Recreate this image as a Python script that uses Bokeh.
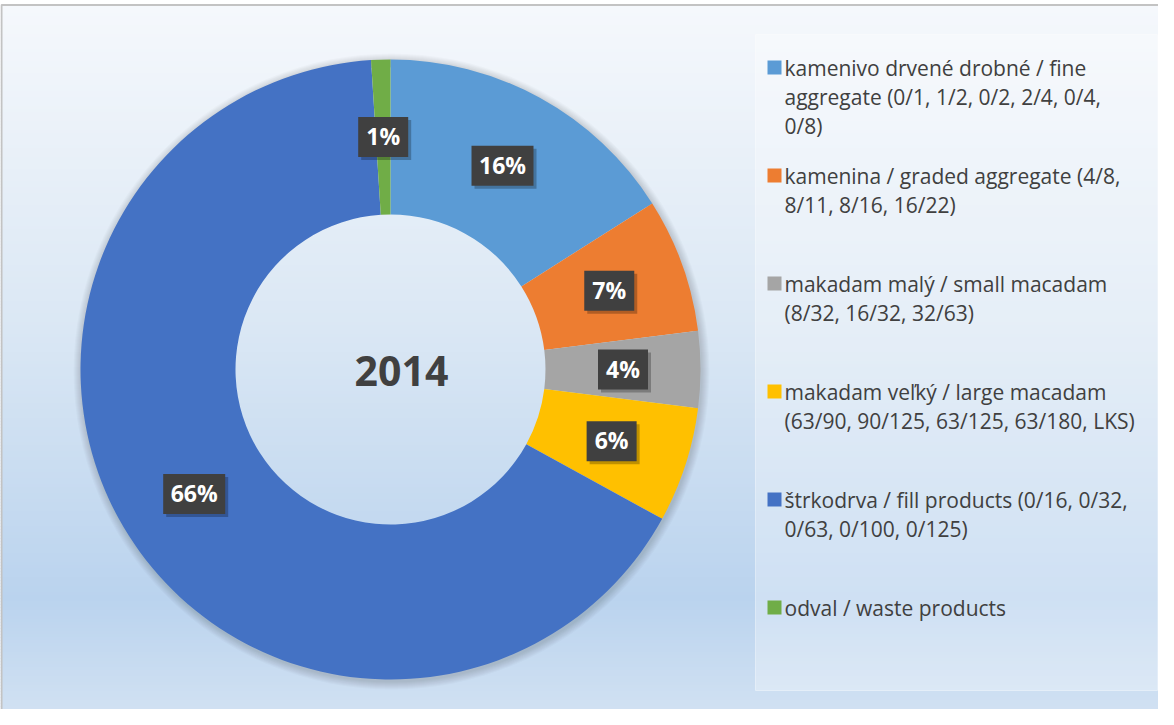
import numpy as np
from bokeh.plotting import figure
from bokeh.models import Range1d, ColumnDataSource
from bokeh.core.properties import value
from bokeh.embed import file_html
from bokeh.resources import INLINE

# ---------------- data ----------------
categories = [
    "kamenivo drvené drobné / fine aggregate (0/1, 1/2, 0/2, 2/4, 0/4, 0/8)",
    "kamenina / graded aggregate (4/8, 8/11, 8/16, 16/22)",
    "makadam malý / small macadam (8/32, 16/32, 32/63)",
    "makadam veľký / large macadam (63/90, 90/125, 63/125, 63/180, LKS)",
    "štrkodrva / fill products (0/16, 0/32, 0/63, 0/100, 0/125)",
    "odval / waste products",
]
legend_lines = [
    ["kamenivo drvené drobné / fine", "aggregate (0/1, 1/2, 0/2, 2/4, 0/4,", "0/8)"],
    ["kamenina / graded aggregate (4/8,", "8/11, 8/16, 16/22)"],
    ["makadam malý / small macadam", "(8/32, 16/32, 32/63)"],
    ["makadam veľký / large macadam", "(63/90, 90/125, 63/125, 63/180, LKS)"],
    ["štrkodrva / fill products (0/16, 0/32,", "0/63, 0/100, 0/125)"],
    ["odval / waste products"],
]
values = [16, 7, 4, 6, 66, 1]
colors = ["#5B9BD5", "#ED7D31", "#A5A5A5", "#FFC000", "#4472C4", "#70AD47"]
center_label = "2014"

FONT = "Open Sans"

# ---------------- layout (page pixels) ----------------
W, H = 1158, 709
PAGE_H = 725
def Y(py):  # page pixel y -> data y
    return PAGE_H - py

p = figure(width=W, height=H, x_range=Range1d(8, 8 + W), y_range=Range1d(Y(8 + H), Y(8)),
           output_backend="svg", toolbar_location=None, min_border=0)
p.axis.visible = False
p.grid.visible = False
p.outline_line_color = None
p.background_fill_color = "white"
p.border_fill_color = "white"

# background gradient of the chart frame
stops_t = [0.0, 0.45, 0.82, 1.0]
stops_c = [(0xF5, 0xF8, 0xFC), (0xDA, 0xE7, 0xF4), (0xBA, 0xD3, 0xEE), (0xD4, 0xE3, 0xF3)]
top_px, bot_px = 12, 717
edges = np.arange(top_px, bot_px + 3, 3)
band_cols = []
for e in edges[:-1]:
    t = (e - top_px) / (735 - top_px)
    rgb = [int(round(np.interp(t, stops_t, [c[k] for c in stops_c]))) for k in range(3)]
    band_cols.append("#%02x%02x%02x" % tuple(rgb))
p.quad(left=8, right=8 + W, top=[Y(e) + 0.5 for e in edges[:-1]],
       bottom=[Y(e) - 3.5 for e in edges[:-1]], fill_color=band_cols, line_color=None)
# frame border
p.line(x=[9, 9, 8 + W], y=[Y(bot_px), Y(12.5), Y(12.5)], line_color="#C3C3C3", line_width=2)

# legend box
p.quad(left=763, right=1165, top=Y(42), bottom=Y(698), fill_color="white", fill_alpha=0.3,
       line_color="white", line_alpha=0.4)

# donut
cx, cy = 398, Y(377)
r_out, r_in = 310, 155
vals = np.array(values, dtype=float)
frac = vals / vals.sum()
cum_after = np.cumsum(frac)
cum_before = cum_after - frac
start = np.pi / 2 - 2 * np.pi * cum_before
end = np.pi / 2 - 2 * np.pi * cum_after
mid = np.pi / 2 - 2 * np.pi * (cum_before + frac / 2)

# soft shadow around the ring
for k in range(1, 9):
    p.annulus(x=cx + 1, y=cy - 2, inner_radius=r_out - 6, outer_radius=r_out + k,
              fill_color="black", fill_alpha=0.018, line_color=None)

src = ColumnDataSource(dict(start=start, end=end, color=colors, cat=categories))
p.annular_wedge(x=cx, y=cy, inner_radius=r_in, outer_radius=r_out, start_angle="start",
                end_angle="end", direction="clock", fill_color="color", line_color=None, source=src)

# data labels
r_lab = (r_in + r_out) / 2
lab_text = ["%d%%" % round(f * 100) for f in frac]
lx = cx + r_lab * np.cos(mid)
ly = cy + r_lab * np.sin(mid)
bw = [26 + 12 * len(t) for t in lab_text]
p.rect(x=lx + 3, y=ly - 3, width=bw, height=40, width_units="screen", height_units="screen",
       fill_color="black", fill_alpha=0.25, line_color=None)
p.rect(x=lx, y=ly, width=bw, height=40, width_units="screen", height_units="screen",
       fill_color="#404040", line_color=None)
p.text(x=lx, y=ly + 1, text=lab_text, text_color="white", text_font=value(FONT),
       text_font_style="bold", text_font_size="23px", text_align="center", text_baseline="middle")

# center label
p.text(x=[409], y=[Y(378)], text=[center_label], text_color="#404040", text_font=value(FONT),
       text_font_style="bold", text_font_size="41px", text_align="center", text_baseline="middle")

# legend
mx, my, tx, ty = [], [], [], []
txt = []
for i, lines in enumerate(legend_lines):
    y0 = 75 + 108 * i
    mx.append(782)
    my.append(Y(y0))
    for j, line in enumerate(lines):
        tx.append(792)
        ty.append(Y(y0 + 29 * j))
        txt.append(line)
p.rect(x=mx, y=my, width=14, height=14, width_units="screen", height_units="screen",
       fill_color=colors, line_color=None)
p.text(x=tx, y=ty, text=txt, text_color="#404040", text_font=value(FONT),
       text_font_size="21px", text_align="left", text_baseline="middle")

open("out.html", "w").write(file_html(p, INLINE))
